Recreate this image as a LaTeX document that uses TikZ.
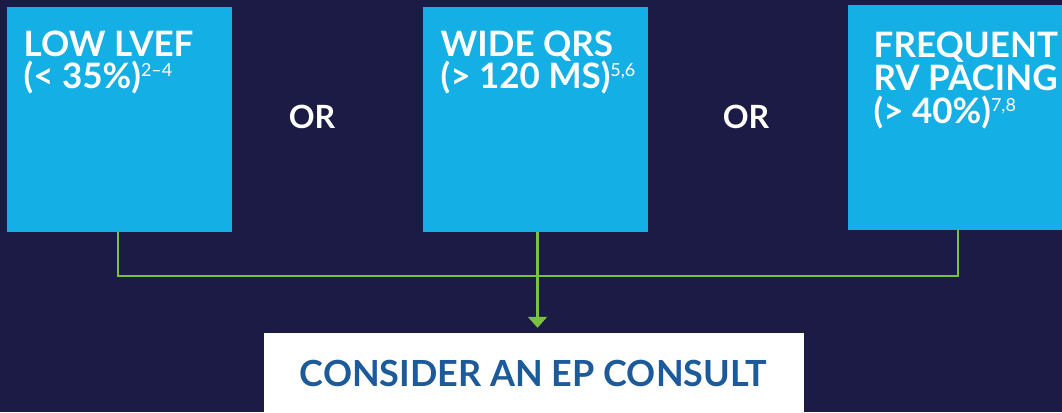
\documentclass[tikz,border=0pt]{standalone}
\usepackage{fontspec}
\setmainfont{Lato}
\usetikzlibrary{arrows.meta}
\definecolor{bgnavy}{HTML}{1B1B45}
\definecolor{boxcyan}{HTML}{13AFE5}
\definecolor{linkgreen}{HTML}{7AC143}
\definecolor{consultblue}{HTML}{1D5A9A}
\newcommand{\refsup}[1]{\raisebox{12pt}{\fontsize{18}{18}\selectfont\mdseries #1}}
\begin{document}
\begin{tikzpicture}[x=1pt,y=-1pt,
  cbox/.style={fill=boxcyan, draw=none, minimum width=225pt, minimum height=225pt, inner sep=0pt},
  boxtext/.style={text=white, anchor=base west, inner sep=0pt, font=\fontsize{35}{35}\selectfont\bfseries},
  ortext/.style={text=white, anchor=base, inner sep=0pt, font=\fontsize{32}{32}\selectfont\bfseries},
  conn/.style={draw=linkgreen, line width=2.2pt},
  result/.style={fill=white, draw=none, inner sep=0pt}]
\fill[bgnavy] (0,0) rectangle (1062,412);
\useasboundingbox (0,0) rectangle (1062,412);
\node[cbox] (b1) at (119.5,119.5) {};
\node[cbox] (b2) at (535.5,119.5) {};
\node[cbox] (b3) at (960.5,117.5) {};
\node[result, minimum width=540pt, minimum height=90pt] (consult) at (534,378) {};
\node[text=consultblue, anchor=base, inner sep=0pt, font=\fontsize{36}{36}\selectfont\bfseries] (consulttext) at (533.5,386) {CONSIDER AN EP CONSULT};
\node[boxtext] (t1a) at (23.5,56.7) {LOW LVEF};
\node[boxtext] (t1b) at (23.5,88.3) {(< 35\%)\refsup{2–4}};
\node[boxtext] (t2a) at (440.5,56.7) {WIDE QRS};
\node[boxtext] (t2b) at (440.5,88.3) {(> 120 MS)\refsup{5,6}};
\node[boxtext] (t3a) at (873.5,57.3) {FREQUENT};
\node[boxtext] (t3b) at (873.5,90) {RV PACING};
\node[boxtext] (t3c) at (873.5,123) {(> 40\%)\refsup{7,8}};
\node[ortext] (or1) at (312,128) {OR};
\node[ortext] (or2) at (746,128) {OR};
\coordinate (j) at (537.5,276);
\draw[conn] (b1.south -| 117.8,0) |- (j) -| (b3.south -| 958,0);
\draw[conn, -{Triangle[width=19pt,length=11pt]}, shorten >=5pt] (b2.south -| j) -- (consult.north -| j);
\end{tikzpicture}
\end{document}
